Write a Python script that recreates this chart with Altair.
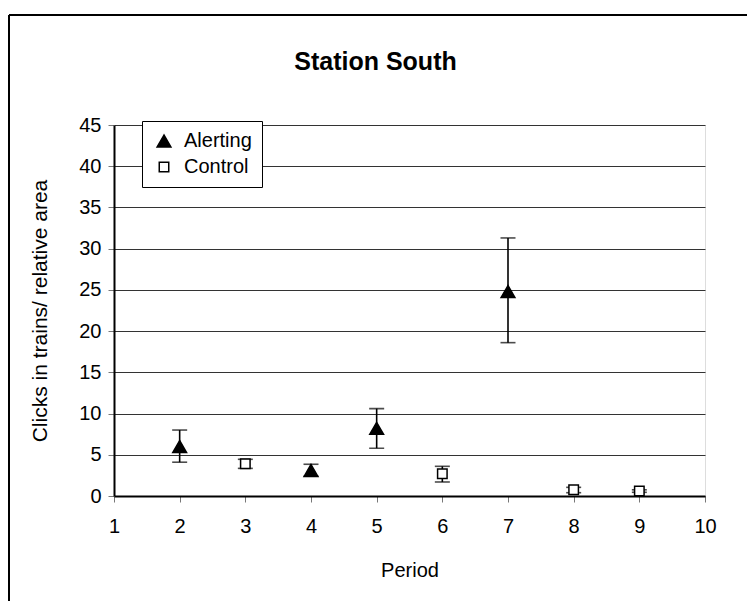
import altair as alt
import pandas as pd

# ---- data ----
alert_period = [2, 4, 5, 7]
alert_mean = [6.0, 3.1, 8.2, 24.8]
alert_lo = [4.1, 2.4, 5.8, 18.6]
alert_hi = [8.0, 3.85, 10.6, 31.3]

control_period = [3, 6, 8, 9]
control_mean = [3.9, 2.7, 0.75, 0.6]
control_lo = [3.35, 1.7, 0.4, 0.45]
control_hi = [4.45, 3.6, 1.05, 0.75]

series_names = ["Alerting", "Control"]
x_ticks = [1, 2, 3, 4, 5, 6, 7, 8, 9, 10]
y_ticks = [0, 5, 10, 15, 20, 25, 30, 35, 40, 45]

rows = []
for p, m, lo, hi in zip(alert_period, alert_mean, alert_lo, alert_hi):
    rows.append({"period": p, "value": m, "lo": lo, "hi": hi, "series": "Alerting"})
for p, m, lo, hi in zip(control_period, control_mean, control_lo, control_hi):
    rows.append({"period": p, "value": m, "lo": lo, "hi": hi, "series": "Control"})
df = pd.DataFrame(rows)

FONT = "Liberation Sans"
FS = 20

xs = alt.Scale(domain=[1, 10], nice=False, zero=False)
ys = alt.Scale(domain=[0, 45], nice=False)

x_enc = alt.X("period:Q", scale=xs,
              axis=alt.Axis(values=x_ticks, format="d", title="Period", grid=False,
                            labelFontSize=FS, titleFontSize=FS,
                            labelFont=FONT, titleFont=FONT,
                            labelColor="black", titleColor="black",
                            titleFontWeight="normal",
                            tickSize=6, tickColor="#777", labelPadding=14,
                            titlePadding=24, domainColor="black",
                            domainWidth=2, labelFlush=False))
y_enc = alt.Y("value:Q", scale=ys,
              axis=alt.Axis(values=y_ticks, title="Clicks in trains/ relative area",
                            grid=True, gridColor="#333", gridWidth=1,
                            labelFontSize=FS, titleFontSize=21,
                            labelFont=FONT, titleFont=FONT,
                            labelColor="black", titleColor="black",
                            titleFontWeight="normal",
                            tickSize=6, tickColor="#777", labelPadding=7,
                            titlePadding=28, domainColor="black",
                            domainWidth=2))

base = alt.Chart(df)

rules = base.mark_rule(color="black", strokeWidth=1.6).encode(
    x=alt.X("period:Q", scale=xs),
    y=alt.Y("lo:Q", scale=ys),
    y2="hi:Q",
)
caps_lo = base.mark_tick(color="black", orient="horizontal", size=15, thickness=1.6).encode(
    x=alt.X("period:Q", scale=xs), y=alt.Y("lo:Q", scale=ys))
caps_hi = base.mark_tick(color="black", orient="horizontal", size=15, thickness=1.6).encode(
    x=alt.X("period:Q", scale=xs), y=alt.Y("hi:Q", scale=ys))

leg = alt.Legend(title=None, orient="none", legendX=28, legendY=-4,
                 labelFontSize=FS, labelFont=FONT, labelColor="black",
                 strokeColor="black", fillColor="white",
                 padding=10, symbolSize=120, symbolStrokeWidth=1.5,
                 symbolStrokeColor="black",
                 rowPadding=6, labelOffset=10, symbolOffset=2)

points = base.mark_point(filled=True, stroke="black", strokeWidth=1.5, opacity=1).encode(
    x=x_enc,
    y=y_enc,
    shape=alt.Shape("series:N",
                    scale=alt.Scale(domain=series_names, range=["triangle-up", "square"]),
                    legend=leg),
    color=alt.Color("series:N",
                    scale=alt.Scale(domain=series_names, range=["black", "white"]),
                    legend=leg),
    size=alt.Size("series:N",
                  scale=alt.Scale(domain=series_names, range=[190, 90]),
                  legend=None),
)

# outer chart frame (left and top edges visible in the reference)
frame_left = alt.Chart(df).mark_rule(color="black", strokeWidth=1.5).encode(
    x=alt.value(-105), y=alt.value(-110), y2=alt.value(480))
frame_top = alt.Chart(df).mark_rule(color="black", strokeWidth=1.5).encode(
    x=alt.value(-105), x2=alt.value(640), y=alt.value(-110))

chart = alt.layer(rules, caps_lo, caps_hi, points, frame_left, frame_top).properties(
    width=591, height=371,
    title=alt.TitleParams("Station South", fontSize=25, font=FONT, fontWeight="bold",
                          color="black", dx=-34, dy=61, offset=0, anchor="middle",
                          frame="group"),
    autosize=alt.AutoSizeParams(type="none"),
    padding={"left": 114, "top": 125, "right": 42, "bottom": 105},
).configure_view(stroke="#222", strokeWidth=1.5).configure(background="white")

chart.save("out.html", embed_options={"renderer": "svg", "actions": False})
